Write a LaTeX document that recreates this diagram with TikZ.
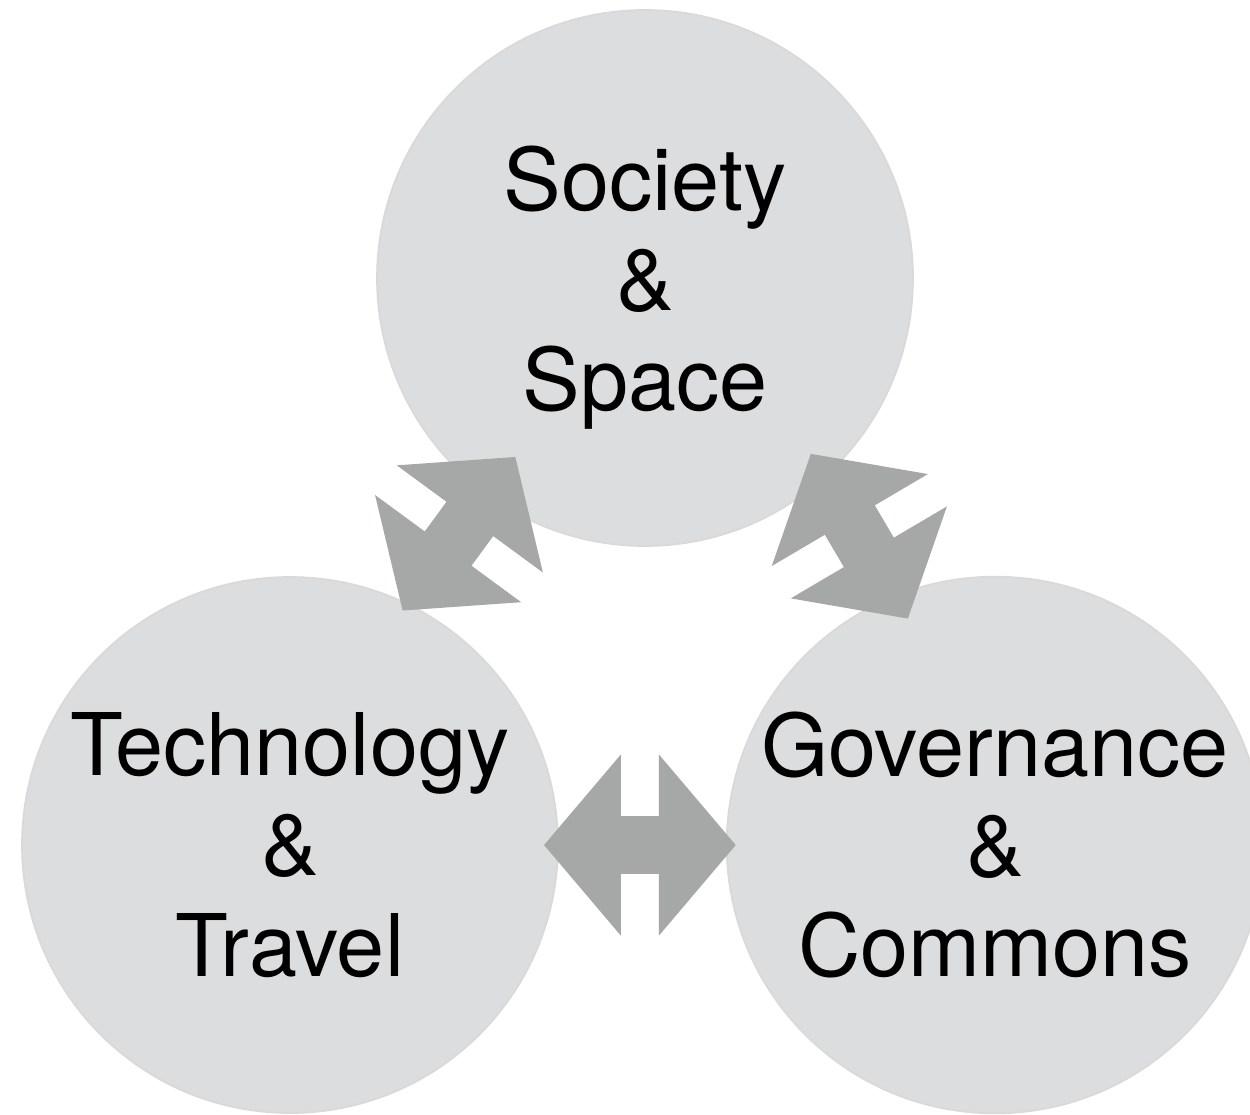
\documentclass[tikz,border=0pt]{standalone}
\usepackage{amsmath}
\usepackage{fontspec}
\setmainfont{TeX Gyre Heros}
\usepackage{xcolor}
\usepackage{tikz}
\usetikzlibrary{arrows.meta}

\definecolor{bubblegray}{RGB}{220,221,223}
\definecolor{arrowgray}{RGB}{165,168,167}

\begin{document}
\begin{tikzpicture}[scale=0.1]
\tikzstyle{every node}+=[inner sep=0pt]
\tikzstyle{topic}=[circle, fill=bubblegray, draw=black!15, line width=0.5pt, minimum size=5.36cm, align=center, font=\fontsize{24.6}{28.5}\selectfont]
\tikzstyle{link}=[arrowgray, line width=0.58cm, {Triangle[length=0.77cm,width=1.77cm]}-{Triangle[length=0.77cm,width=1.77cm]}]
\useasboundingbox (0,0) rectangle (125,-111.4);
\node [topic] (soc) at (64.5,-27.8) {Society\\\&\\\smash[b]{Space}};
\node [topic] (tec) at (29,-84.5) {Technology\\\&\\Travel};
\node [topic] (gov) at (99.5,-84.5) {Governance\\\&\\Commons};
\draw [link, shorten <=-0.09cm, shorten >=-0.48cm] (tec.64) -- (soc.234);
\draw [link, shorten <=-0.28cm, shorten >=-0.27cm] (soc.312) -- (gov.112);
\draw [link, shorten <=-0.15cm, shorten >=-0.10cm] (tec.east) -- (gov.west);
\end{tikzpicture}
\end{document}
